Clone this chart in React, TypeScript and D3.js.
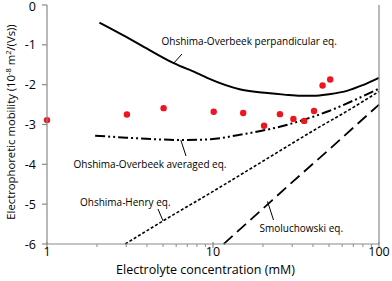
import React from 'react';
import * as d3 from 'd3';

// measured points
const pointX = [1, 3.03, 5.04, 10.1, 15.2, 20.3, 25.3, 30.5, 35.4, 40.6, 45.7, 50.8];
const pointY = [-2.89, -2.75, -2.59, -2.68, -2.71, -3.03, -2.74, -2.86, -2.91, -2.66, -2.02, -1.87];

// model curves
const perpX = [2.07, 3, 3.65, 5.8, 8, 9.22, 14.66, 21.3, 26.8, 33.8, 40.4, 50, 64.8, 80, 100];
const perpY = [-0.44, -0.8, -1.0, -1.46, -1.71, -1.83, -2.12, -2.21, -2.25, -2.28, -2.28, -2.24, -2.15, -2.01, -1.83];

const avgX = [1.95, 3, 4.5, 6.4, 9.7, 14, 20, 24.5, 35.3, 50, 70, 100];
const avgY = [-3.28, -3.33, -3.37, -3.39, -3.37, -3.27, -3.15, -3.07, -2.88, -2.66, -2.4, -2.1];

const henryX = [2.96, 5, 10, 20, 40, 70, 100];
const henryY = [-6, -5.42, -4.68, -3.92, -3.16, -2.57, -2.17];

const smolX = [11.6, 20, 35, 50, 70, 100];
const smolY = [-6, -5.11, -4.2, -3.63, -3.08, -2.5];

const yTicks = [0, -1, -2, -3, -4, -5, -6];
const xMajor = [1, 10, 100];
const xMinor = [2, 3, 4, 5, 6, 7, 8, 9, 20, 30, 40, 50, 60, 70, 80, 90];

const W = 392;
const H = 281;
const m = { left: 47, right: 13, top: 5, bottom: 37 };

const font = "'Open Sans', 'DejaVu Sans', sans-serif";
const axisColor = '#8a8a8a';

export default function App() {
  const x = d3.scaleLog().domain([1, 100]).range([m.left, W - m.right]);
  const y = d3.scaleLinear().domain([-6, 0]).range([H - m.bottom, m.top]);

  const line = (xs: number[], ys: number[]) =>
    d3
      .line<number>()
      .x((d, i) => x(xs[i]))
      .y((d) => y(d))
      .curve(d3.curveMonotoneX)(ys) || '';

  const x0 = m.left;
  const x1 = W - m.right;
  const yb = H - m.bottom;

  return (
    <svg width={W} height={H} style={{ position: 'absolute', left: 0, top: 0, background: '#fff' }}>
      {/* curves */}
      <path d={line(perpX, perpY)} fill="none" stroke="#000" strokeWidth={2} />
      <path d={line(avgX, avgY)} fill="none" stroke="#000" strokeWidth={2} strokeDasharray="10 3 2 3 2 3" />
      <path d={line(henryX, henryY)} fill="none" stroke="#000" strokeWidth={1.6} strokeDasharray="3 2" />
      <path d={line(smolX, smolY)} fill="none" stroke="#000" strokeWidth={1.8} strokeDasharray="12 6" />

      {pointX.map((v, i) => (
        <circle key={i} cx={x(v)} cy={y(pointY[i])} r={3.2} fill="#f0141e" />
      ))}

      {/* axes */}
      <line x1={x0} x2={x0} y1={m.top} y2={yb} stroke={axisColor} strokeWidth={1.2} />
      <line x1={x0} x2={x1} y1={yb} y2={yb} stroke={axisColor} strokeWidth={1.2} />
      <line x1={x1} x2={x1} y1={m.top} y2={yb} stroke={axisColor} strokeWidth={1.2} />
      {yTicks.map((t) => (
        <g key={t}>
          <line x1={x0 - 5} x2={x0} y1={y(t)} y2={y(t)} stroke={axisColor} strokeWidth={1.2} />
          <text x={36} y={Math.max(y(t) + 4.5, 11)} textAnchor="end" fontFamily={font} fontSize={12.5} fill="#000">
            {t === 0 ? '0' : '-' + Math.abs(t)}
          </text>
        </g>
      ))}
      {xMinor.map((t) => (
        <line key={t} x1={x(t)} x2={x(t)} y1={yb} y2={yb + 3} stroke={axisColor} strokeWidth={1} />
      ))}
      {xMajor.map((t) => (
        <g key={t}>
          <line x1={x(t)} x2={x(t)} y1={yb - 2} y2={yb + 4} stroke={axisColor} strokeWidth={1.2} />
          <text x={x(t)} y={256} textAnchor="middle" fontFamily={font} fontSize={12.5} fill="#000">
            {t}
          </text>
        </g>
      ))}

      <text x={205.5} y={274} textAnchor="middle" fontFamily={font} fontSize={12.5} fill="#000">
        Electrolyte concentration (mM)
      </text>
      <text
        transform="translate(15,122) rotate(-90)"
        textAnchor="middle"
        fontFamily={font}
        fontSize={11.3}
        fill="#000"
      >
        Electrophoretic mobility (10
        <tspan dy={-4.5} fontSize={7.5}>-8</tspan>
        <tspan dy={4.5}> m</tspan>
        <tspan dy={-4.5} fontSize={7.5}>2</tspan>
        <tspan dy={4.5}>/(Vs))</tspan>
      </text>

      {/* curve labels */}
      <g fontFamily={font} fontSize={10} fill="#000">
        <text x={161.5} y={45}>Ohshima-Overbeek perpandicular eq.</text>
        <text x={73.5} y={168}>Ohshima-Overbeek averaged eq.</text>
        <text x={80} y={205.5}>Ohshima-Henry eq.</text>
        <text x={259.5} y={232}>Smoluchowski eq.</text>
      </g>
      <g stroke="#000" strokeWidth={1}>
        <line x1={x(5.8)} y1={y(-1.46)} x2={182} y2={54} />
        <line x1={x(6.4)} y1={y(-3.39)} x2={186} y2={156} />
        <line x1={x(5)} y1={y(-5.42)} x2={158} y2={209} />
        <line x1={x(21.3)} y1={y(-4.93)} x2={273.5} y2={220} />
      </g>
    </svg>
  );
}
